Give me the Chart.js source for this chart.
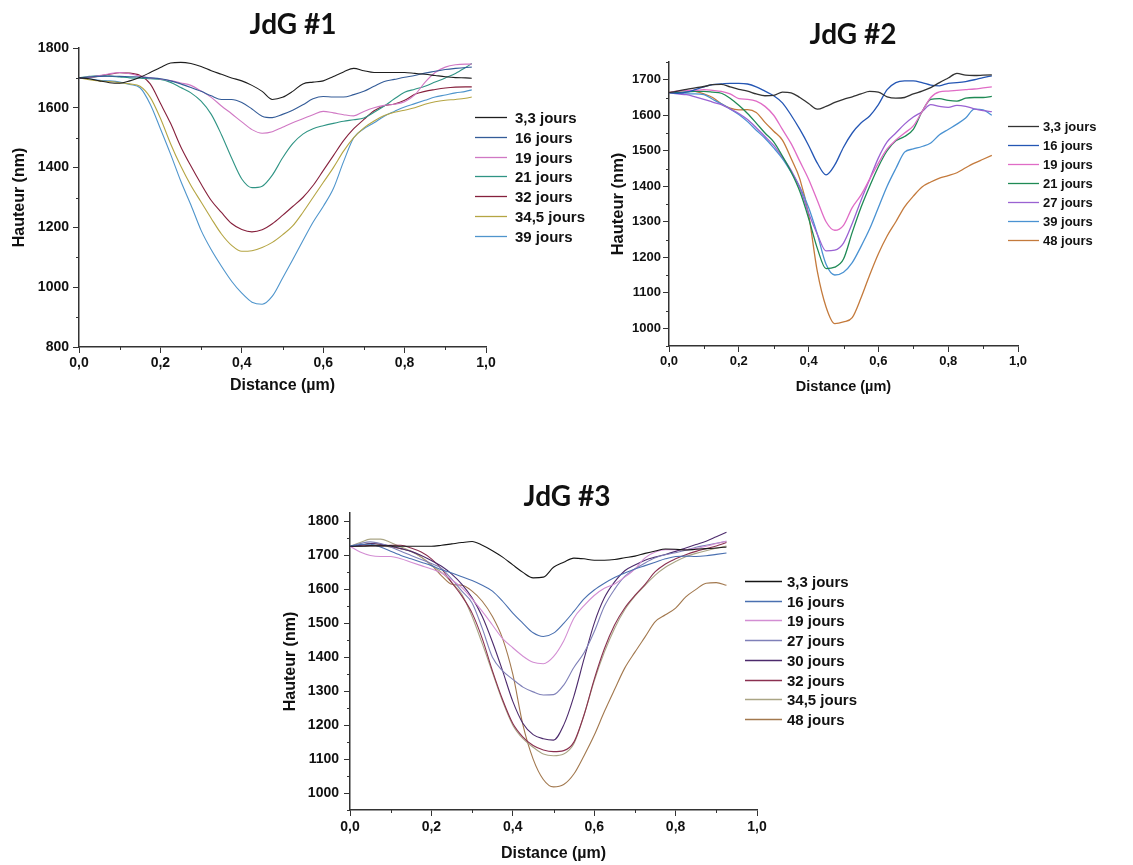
<!DOCTYPE html>
<html>
<head>
<meta charset="utf-8">
<script src="https://cdn.jsdelivr.net/npm/chart.js@4.4.1/dist/chart.umd.min.js"></script>
<style>
  body { margin: 0; background: #fff; width: 1133px; height: 865px; position: relative; overflow: hidden; }
  .box { position: absolute; }
</style>
</head>
<body>
<div class="box" style="left:0;top:0;width:600px;height:400px"><canvas id="c1"></canvas></div>
<div class="box" style="left:600px;top:0;width:533px;height:400px"><canvas id="c2"></canvas></div>
<div class="box" style="left:270px;top:470px;width:600px;height:395px"><canvas id="c3"></canvas></div>
<script>
// ---- axes / ticks ----
const xTicks = [0, 0.2, 0.4, 0.6, 0.8, 1.0];
const xMinor = [0.1, 0.3, 0.5, 0.7, 0.9];
const yTicks1 = [800, 1000, 1200, 1400, 1600, 1800];
const yMinor1 = [900, 1100, 1300, 1500, 1700];
const yTicks2 = [1000, 1100, 1200, 1300, 1400, 1500, 1600, 1700];
const yMinor2 = [950, 1050, 1150, 1250, 1350, 1450, 1550, 1650, 1750];
const yTicks3 = [1000, 1100, 1200, 1300, 1400, 1500, 1600, 1700, 1800];
const yMinor3 = [950, 1050, 1150, 1250, 1350, 1450, 1550, 1650, 1750];

// ---- JdG #1 : distance (µm) et hauteur (nm) ----
const dist1 = [0, 0.025, 0.05, 0.075, 0.1, 0.125, 0.15, 0.175, 0.2, 0.225, 0.25, 0.275, 0.3, 0.325, 0.35, 0.375, 0.4, 0.425, 0.45, 0.475,
  0.5, 0.525, 0.55, 0.575, 0.6, 0.625, 0.65, 0.675, 0.7, 0.725, 0.75, 0.775, 0.8, 0.825, 0.85, 0.875, 0.9, 0.925, 0.95, 0.965];
const g1_j3_3 = [1700,1697,1690,1684,1682,1690,1702,1718,1735,1750,1752,1748,1738,1724,1712,1700,1690,1675,1655,1628,
  1635,1655,1680,1686,1690,1705,1720,1732,1724,1718,1718,1718,1718,1715,1712,1708,1704,1701,1700,1699];
const g1_j16 = [1700,1703,1705,1706,1705,1704,1703,1700,1697,1690,1680,1668,1655,1640,1628,1628,1618,1596,1572,1567,
  1578,1592,1610,1630,1638,1636,1636,1644,1655,1672,1688,1695,1702,1708,1716,1722,1728,1732,1735,1736];
const g1_j19 = [1700,1703,1708,1714,1718,1714,1706,1700,1696,1691,1683,1675,1656,1635,1606,1580,1553,1527,1515,1520,
  1535,1550,1563,1577,1588,1583,1577,1573,1588,1600,1608,1612,1620,1643,1685,1718,1736,1744,1746,1746];
const g1_j21 = [1700,1705,1708,1706,1703,1700,1699,1697,1695,1685,1668,1650,1622,1578,1510,1432,1362,1333,1338,1375,
  1432,1480,1512,1530,1540,1548,1555,1560,1566,1585,1606,1630,1652,1662,1672,1686,1700,1715,1735,1748];
const g1_j32 = [1700,1702,1706,1712,1717,1716,1708,1680,1615,1548,1470,1405,1345,1290,1250,1213,1193,1185,1192,1212,
  1240,1270,1300,1340,1390,1440,1490,1530,1561,1590,1607,1613,1625,1645,1655,1661,1666,1669,1670,1670];
const g1_j34_5 = [1700,1694,1690,1688,1684,1680,1672,1635,1565,1480,1405,1340,1285,1230,1178,1140,1120,1122,1133,1150,
  1175,1205,1250,1300,1350,1400,1455,1500,1533,1556,1574,1585,1592,1600,1612,1620,1625,1628,1632,1636];
const g1_j39 = [1700,1697,1692,1690,1686,1678,1667,1612,1530,1445,1355,1275,1190,1125,1070,1020,980,950,943,970,
  1030,1092,1155,1217,1270,1330,1420,1500,1530,1550,1572,1588,1603,1614,1625,1636,1643,1650,1655,1660];

// ---- JdG #2 ----
const dist2 = [0, 0.025, 0.05, 0.075, 0.1, 0.125, 0.15, 0.175, 0.2, 0.225, 0.25, 0.275, 0.3, 0.325, 0.35, 0.375, 0.4, 0.425, 0.45, 0.475,
  0.5, 0.525, 0.55, 0.575, 0.6, 0.625, 0.65, 0.675, 0.7, 0.725, 0.75, 0.775, 0.8, 0.825, 0.85, 0.875, 0.9, 0.925];
const g2_j3_3 = [1664,1668,1673,1677,1681,1686,1687,1680,1673,1668,1660,1655,1656,1665,1663,1650,1633,1617,1625,1636,
  1645,1652,1660,1667,1665,1652,1648,1650,1660,1668,1678,1692,1705,1718,1713,1712,1713,1714];
const g2_j16 = [1664,1662,1665,1672,1680,1686,1688,1690,1690,1688,1680,1668,1655,1635,1600,1560,1515,1465,1432,1460,
  1510,1550,1578,1598,1630,1672,1692,1697,1697,1692,1685,1683,1690,1692,1695,1700,1706,1711];
const g2_j19 = [1664,1668,1670,1670,1672,1670,1667,1660,1647,1645,1640,1625,1600,1560,1520,1470,1420,1360,1300,1276,
  1290,1340,1375,1420,1465,1505,1530,1550,1570,1610,1650,1666,1668,1670,1672,1674,1677,1680];
const g2_j21 = [1664,1664,1666,1667,1667,1665,1662,1648,1628,1605,1578,1550,1525,1485,1440,1385,1310,1225,1168,1172,
  1195,1270,1340,1400,1455,1500,1528,1540,1560,1610,1645,1647,1642,1640,1648,1650,1650,1653];
const g2_j27 = [1664,1660,1658,1652,1645,1637,1630,1618,1605,1588,1565,1540,1515,1482,1445,1395,1325,1265,1218,1220,
  1240,1295,1360,1420,1480,1525,1550,1575,1595,1610,1630,1625,1622,1628,1625,1618,1613,1610];
const g2_j39 = [1664,1663,1660,1660,1658,1645,1632,1618,1602,1582,1558,1535,1508,1478,1440,1398,1340,1265,1180,1150,
  1158,1185,1230,1280,1340,1400,1450,1496,1505,1512,1522,1545,1560,1575,1592,1617,1615,1600];
const g2_j48 = [1664,1668,1670,1667,1660,1650,1632,1620,1615,1616,1608,1580,1555,1530,1478,1420,1320,1160,1060,1013,
  1018,1030,1085,1150,1210,1260,1300,1342,1372,1398,1412,1423,1430,1438,1452,1465,1476,1487];

// ---- JdG #3 ----
const dist3 = [0, 0.025, 0.05, 0.075, 0.1, 0.125, 0.15, 0.175, 0.2, 0.225, 0.25, 0.275, 0.3, 0.325, 0.35, 0.375, 0.4, 0.425, 0.45, 0.475,
  0.5, 0.525, 0.55, 0.575, 0.6, 0.625, 0.65, 0.675, 0.7, 0.725, 0.75, 0.775, 0.8, 0.825, 0.85, 0.875, 0.9, 0.925];
const g3_j3_3 = [1727,1727,1728,1728,1728,1727,1727,1727,1727,1730,1734,1738,1741,1730,1714,1695,1672,1650,1634,1636,
  1665,1680,1692,1690,1686,1686,1688,1693,1698,1706,1713,1719,1718,1716,1718,1720,1722,1725];
const g3_j16 = [1727,1732,1733,1725,1712,1700,1690,1680,1670,1658,1648,1637,1626,1612,1595,1565,1530,1500,1472,1461,
  1471,1500,1535,1572,1598,1618,1635,1648,1660,1670,1680,1690,1697,1698,1697,1699,1703,1707];
const g3_j19 = [1727,1710,1700,1697,1697,1690,1680,1670,1660,1648,1628,1605,1572,1535,1495,1455,1428,1403,1385,1381,
  1402,1448,1515,1552,1582,1603,1616,1636,1660,1693,1710,1717,1717,1717,1720,1727,1735,1742];
const g3_j27 = [1727,1735,1740,1735,1725,1712,1700,1688,1676,1662,1630,1595,1560,1485,1400,1360,1335,1312,1298,1289,
  1290,1318,1370,1413,1475,1550,1600,1638,1660,1678,1693,1702,1708,1715,1724,1730,1736,1742];
const g3_j30 = [1727,1730,1735,1733,1728,1720,1712,1700,1685,1668,1645,1615,1575,1520,1445,1360,1270,1205,1172,1160,
  1156,1200,1285,1395,1500,1575,1622,1655,1672,1686,1695,1703,1712,1722,1732,1742,1755,1768];
const g3_j32 = [1727,1728,1729,1728,1730,1730,1722,1710,1690,1660,1620,1580,1530,1455,1360,1275,1205,1165,1140,1127,
  1122,1125,1150,1230,1335,1425,1495,1545,1582,1615,1652,1675,1690,1702,1712,1720,1728,1738];
const g3_j34_5 = [1727,1738,1748,1748,1738,1725,1712,1695,1670,1650,1620,1585,1520,1440,1355,1270,1200,1160,1135,1115,
  1110,1115,1145,1230,1330,1415,1485,1540,1580,1612,1642,1665,1682,1696,1706,1714,1721,1728];
const g3_j48 = [1727,1730,1735,1732,1725,1720,1712,1695,1672,1640,1615,1612,1595,1565,1520,1455,1350,1200,1100,1040,
  1018,1025,1056,1110,1170,1240,1305,1368,1415,1460,1505,1525,1545,1578,1600,1618,1620,1612];

const axisColor = '#333';
const pts = (xs, ys) => xs.map((x, i) => ({ x: x, y: ys[i] }));
const fmtX = v => v.toFixed(1).replace('.', ',');

// titre, légende et petites graduations
const decorPlugin = {
  id: 'decor',
  afterDraw(chart, args, o) {
    const ctx = chart.ctx;
    ctx.save();
    ctx.strokeStyle = axisColor;
    ctx.lineWidth = 1;
    const sx = chart.scales.x, sy = chart.scales.y;
    o.minorX.forEach(v => {
      const p = Math.round(sx.getPixelForValue(v)) + 0.5;
      ctx.beginPath(); ctx.moveTo(p, sx.top); ctx.lineTo(p, sx.top + 3); ctx.stroke();
    });
    o.minorY.forEach(v => {
      const p = Math.round(sy.getPixelForValue(v)) + 0.5;
      ctx.beginPath(); ctx.moveTo(sy.right, p); ctx.lineTo(sy.right - 3, p); ctx.stroke();
    });

    ctx.fillStyle = '#111';
    ctx.font = o.titleFont;
    ctx.textAlign = 'center';
    ctx.textBaseline = 'alphabetic';
    ctx.fillText(o.title, o.titleX, o.titleY);

    ctx.font = o.legendFont;
    ctx.textAlign = 'left';
    ctx.textBaseline = 'middle';
    chart.data.datasets.forEach((ds, i) => {
      const y = Math.round(o.legendY + i * o.legendGap) + 0.5;
      ctx.strokeStyle = ds.borderColor;
      ctx.lineWidth = 1.3;
      ctx.beginPath(); ctx.moveTo(o.lineX0, y); ctx.lineTo(o.lineX1, y); ctx.stroke();
      ctx.fillStyle = '#111';
      ctx.fillText(ds.label, o.textX, y + 1);
    });
    ctx.restore();
  }
};

function makeChart(id, cfg) {
  new Chart(document.getElementById(id), {
    type: 'line',
    data: {
      datasets: cfg.series.map(s => ({
        label: s[0],
        data: pts(cfg.dist, s[1]),
        borderColor: s[2],
        borderWidth: cfg.lineWidth,
        pointRadius: 0,
        cubicInterpolationMode: 'monotone',
        fill: false
      }))
    },
    options: {
      responsive: true,
      maintainAspectRatio: false,
      animation: false,
      devicePixelRatio: 1,
      layout: { padding: cfg.padding },
      plugins: {
        legend: { display: false },
        tooltip: { enabled: false },
        decor: cfg.decor
      },
      scales: {
        x: {
          type: 'linear',
          min: 0,
          max: 1,
          afterBuildTicks: s => { s.ticks = xTicks.map(v => ({ value: v })); },
          afterFit: s => { s.height = cfg.xHeight; },
          grid: { drawOnChartArea: false, tickLength: 6, color: axisColor, lineWidth: 1 },
          border: { color: axisColor, width: 1.5 },
          ticks: { color: '#111', font: cfg.tickFont, padding: cfg.xTickPad, maxRotation: 0, autoSkip: false, callback: v => fmtX(v) },
          title: { display: true, text: 'Distance (µm)', color: '#111', font: cfg.xTitleFont, padding: { top: 0, bottom: cfg.xTitlePad } }
        },
        y: {
          type: 'linear',
          min: cfg.yMin,
          max: cfg.yMax,
          afterBuildTicks: s => { s.ticks = cfg.yTicks.map(v => ({ value: v })); },
          afterFit: s => { s.width = cfg.yWidth; },
          grid: { drawOnChartArea: false, tickLength: 6, color: axisColor, lineWidth: 1 },
          border: { color: axisColor, width: 1.5 },
          ticks: { color: '#111', font: cfg.tickFont, padding: cfg.yTickPad, autoSkip: false, callback: v => String(v) },
          title: { display: true, text: 'Hauteur (nm)', color: '#111', font: cfg.yTitleFont, padding: { top: cfg.yTitlePad, bottom: 0 } }
        }
      }
    },
    plugins: [decorPlugin]
  });
}

const sans = '"Liberation Sans", Arial, sans-serif';

makeChart('c1', {
  dist: dist1,
  series: [
    ['3,3 jours', g1_j3_3, '#1e1e1e'],
    ['16 jours', g1_j16, '#345c98'],
    ['19 jours', g1_j19, '#d078c4'],
    ['21 jours', g1_j21, '#2f9484'],
    ['32 jours', g1_j32, '#86203c'],
    ['34,5 jours', g1_j34_5, '#b5a543'],
    ['39 jours', g1_j39, '#4f95cc']
  ],
  lineWidth: 1.1,
  yMin: 800, yMax: 1800, yTicks: yTicks1,
  padding: { left: 0, right: 114, top: 48, bottom: 0 },
  xHeight: 53, yWidth: 79,
  tickFont: { family: sans, size: 14, weight: 'bold' },
  xTitleFont: { family: sans, size: 16, weight: 'bold' },
  yTitleFont: { family: sans, size: 16, weight: 'bold' },
  xTickPad: 2, yTickPad: 4, xTitlePad: 5, yTitlePad: 10,
  decor: {
    minorX: xMinor, minorY: yMinor1,
    title: 'JdG #1', titleFont: 'bold 28px Lato, "Open Sans", sans-serif', titleX: 293, titleY: 34,
    legendFont: 'bold 15px ' + sans, legendY: 117, legendGap: 19.8, lineX0: 475, lineX1: 507, textX: 515
  }
});

makeChart('c2', {
  dist: dist2,
  series: [
    ['3,3 jours', g2_j3_3, '#333333'],
    ['16 jours', g2_j16, '#2456b4'],
    ['19 jours', g2_j19, '#e06cc6'],
    ['21 jours', g2_j21, '#1f8a55'],
    ['27 jours', g2_j27, '#9a62d2'],
    ['39 jours', g2_j39, '#4a92d2'],
    ['48 jours', g2_j48, '#c47a3c']
  ],
  lineWidth: 1.3,
  yMin: 950, yMax: 1750, yTicks: yTicks2,
  padding: { left: 0, right: 115, top: 62, bottom: 0 },
  xHeight: 54, yWidth: 69,
  tickFont: { family: sans, size: 13, weight: 'bold' },
  xTitleFont: { family: sans, size: 14.5, weight: 'bold' },
  yTitleFont: { family: sans, size: 16.5, weight: 'bold' },
  xTickPad: 2, yTickPad: 2, xTitlePad: 4, yTitlePad: 9,
  decor: {
    minorX: xMinor, minorY: yMinor2,
    title: 'JdG #2', titleFont: 'bold 28px Lato, "Open Sans", sans-serif', titleX: 253, titleY: 44,
    legendFont: 'bold 13px ' + sans, legendY: 126, legendGap: 19, lineX0: 408, lineX1: 439, textX: 443
  }
});

makeChart('c3', {
  dist: dist3,
  series: [
    ['3,3 jours', g3_j3_3, '#151515'],
    ['16 jours', g3_j16, '#4a70b0'],
    ['19 jours', g3_j19, '#d38ed3'],
    ['27 jours', g3_j27, '#7f80b8'],
    ['30 jours', g3_j30, '#4c2a6c'],
    ['32 jours', g3_j32, '#8a3050'],
    ['34,5 jours', g3_j34_5, '#aaa585'],
    ['48 jours', g3_j48, '#a2784e']
  ],
  lineWidth: 1.1,
  yMin: 950, yMax: 1825, yTicks: yTicks3,
  padding: { left: 0, right: 113, top: 43, bottom: 0 },
  xHeight: 55, yWidth: 80,
  tickFont: { family: sans, size: 14, weight: 'bold' },
  xTitleFont: { family: sans, size: 16, weight: 'bold' },
  yTitleFont: { family: sans, size: 16, weight: 'bold' },
  xTickPad: 3, yTickPad: 5, xTitlePad: 2, yTitlePad: 11,
  decor: {
    minorX: xMinor, minorY: yMinor3,
    title: 'JdG #3', titleFont: 'bold 28px Lato, "Open Sans", sans-serif', titleX: 297, titleY: 36,
    legendFont: 'bold 15px ' + sans, legendY: 111, legendGap: 19.7, lineX0: 475, lineX1: 512, textX: 517
  }
});
</script>
</body>
</html>
